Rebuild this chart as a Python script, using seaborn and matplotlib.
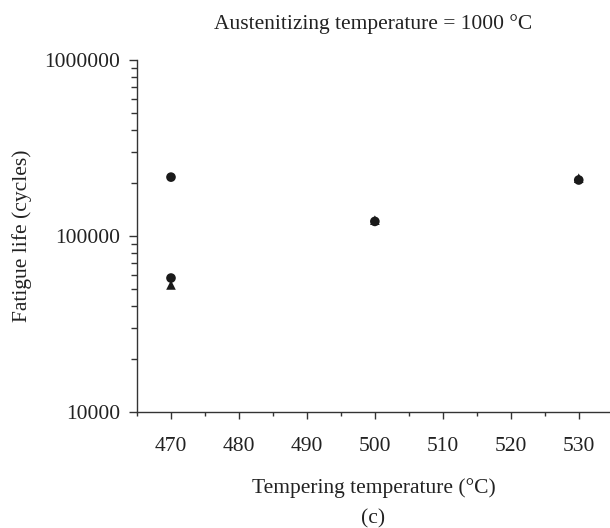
import matplotlib
matplotlib.use("Agg")
import matplotlib.pyplot as plt
import matplotlib.ticker as mticker
import pandas as pd
import seaborn as sns

# data
circle_temp = [470, 470, 500, 530]
circle_life = [216000, 57700, 121000, 208000]
triangle_temp = [470, 500, 530]
triangle_life = [52700, 123000, 213000]

df = pd.concat([
    pd.DataFrame({"temp": circle_temp, "life": circle_life, "series": "circle"}),
    pd.DataFrame({"temp": triangle_temp, "life": triangle_life, "series": "triangle"}),
], ignore_index=True)

sns.set_style("ticks")
plt.rcParams['font.family'] = ['Liberation Serif', 'DejaVu Serif']

FS = 15.5
fig = plt.figure(figsize=(6.10, 5.28), dpi=100)
ax = fig.add_axes([0.2246, 0.2197, 0.7754, 0.6667])

sns.scatterplot(data=df, x="temp", y="life", style="series",
                markers={"circle": "o", "triangle": "^"},
                color="#1a1a1a", s=48, edgecolor="none", legend=False, ax=ax)

ax.set_yscale("log")
ax.set_ylim(10000, 1000000)
ax.set_xlim(465, 534.6)
ax.set_xticks([470, 480, 490, 500, 510, 520, 530])
ax.xaxis.set_minor_locator(mticker.MultipleLocator(5))
ax.yaxis.set_major_locator(mticker.FixedLocator([10000, 100000, 1000000]))
ax.yaxis.set_major_formatter(mticker.FuncFormatter(lambda v, p: "%d" % round(v)))
ax.yaxis.set_minor_locator(mticker.LogLocator(base=10, subs=range(2, 10)))
ax.yaxis.set_minor_formatter(mticker.NullFormatter())

for s in ["top", "right"]:
    ax.spines[s].set_visible(False)
for s in ["left", "bottom"]:
    ax.spines[s].set_color("#333333")
    ax.spines[s].set_linewidth(1.0)

ax.tick_params(which="major", length=5, width=1, color="#333333", labelsize=FS,
               labelcolor="#222222")
ax.tick_params(which="minor", length=3, width=1, color="#333333")
ax.tick_params(axis="x", which="major", pad=13)
ax.tick_params(axis="y", which="major", length=6, pad=6)
ax.tick_params(axis="y", which="minor", length=4)

ax.set_xlabel("Tempering temperature (°C)", fontsize=FS, color="#222222", labelpad=16)
ax.set_ylabel("Fatigue life (cycles)", fontsize=FS, color="#222222", labelpad=9)
ax.set_title("Austenitizing temperature = 1000 °C", fontsize=FS, color="#222222", pad=22)
fig.text(0.612, 0.0, "(c)", ha="center", va="bottom", fontsize=FS, color="#222222")

fig.savefig("out.png", dpi=100)
